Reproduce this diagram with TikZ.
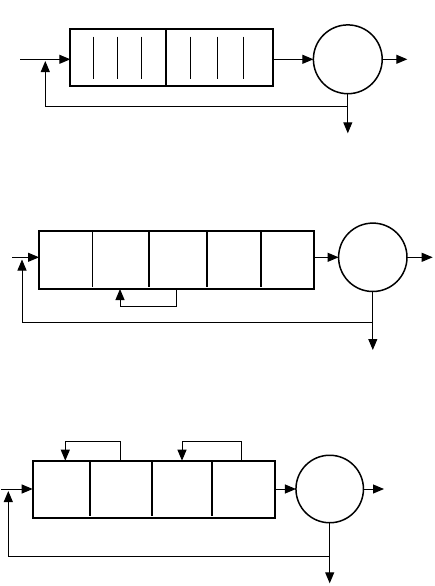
\documentclass[tikz,border=0pt]{standalone}
\usetikzlibrary{arrows.meta}
\tikzset{
  qbox/.style={draw, line width=2pt, rectangle, inner sep=0pt, outer sep=0pt},
  srv/.style={draw, line width=1.5pt, circle, inner sep=0pt, outer sep=0pt},
  thinln/.style={line width=1pt},
  thickdiv/.style={line width=2pt},
  arr/.style={line width=1pt, -{Triangle[length=11pt,width=9pt]}},
  ln/.style={line width=1pt}
}
\begin{document}
\begin{tikzpicture}[x=1pt,y=-1pt]
\useasboundingbox (0,0) rectangle (434,586);
% ---------- Diagram 1 ----------
\node[qbox, minimum width=203pt, minimum height=56.7pt] (b1) at (171.8,57.7) {};
\node[srv, minimum size=68.8pt] (c1) at (347.8,59.3) {};
\coordinate (in1) at (20,59.3);
\coordinate (out1) at (407.3,59.3);
\coordinate (dn1) at (347.8,133.3);
\coordinate (fb1) at (45.3,106.3);
\coordinate (tip1) at (45.3,61);
\draw[arr] (in1) -- (b1.west |- in1);
\draw[arr] (b1.east |- c1) -- (c1.west);
\draw[arr] (c1.east) -- (out1);
\draw[arr] (c1.south) -- (dn1);
\draw[arr] (c1.south |- fb1) -- (fb1) -- (tip1);
\draw[thickdiv] (165.7,29.3) -- (165.7,86);
\foreach \x in {93.3,117.3,141.7,190.3,217.3,243.7}
  \draw[thinln] (\x,36.7) -- (\x,79);
% ---------- Diagram 2 ----------
\node[qbox, minimum width=275.3pt, minimum height=58pt] (b2) at (176.7,260) {};
\node[srv, minimum size=68.4pt] (c2) at (372.8,257.3) {};
\coordinate (in2) at (12,257.3);
\coordinate (out2) at (432.7,257.3);
\coordinate (dn2) at (372.8,350);
\coordinate (fb2) at (22,322.7);
\coordinate (tip2) at (22,259.5);
\coordinate (lp2a) at (176,306.3);
\coordinate (lp2b) at (120,306.3);
\coordinate (lp2c) at (120,289);
\draw[arr] (in2) -- (b2.west |- in2);
\draw[arr] (b2.east |- c2) -- (c2.west);
\draw[arr] (c2.east) -- (out2);
\draw[arr] (c2.south) -- (dn2);
\draw[arr] (c2.south |- fb2) -- (fb2) -- (tip2);
\draw[arr] (b2.south -| lp2a) -- (lp2a) -- (lp2b) -- (lp2c);
\draw[thinln] (92.3,231) -- (92.3,286.7);
\foreach \x in {148.7,207,260.7}
  \draw[thickdiv] (\x,231) -- (\x,286.7);
% ---------- Diagram 3 ----------
\node[qbox, minimum width=242.6pt, minimum height=57pt] (b3) at (154,489.2) {};
\node[srv, minimum size=67.5pt] (c3) at (329.7,489) {};
\coordinate (in3) at (1,489);
\coordinate (out3) at (384,489);
\coordinate (dn3) at (329.7,583.3);
\coordinate (fb3) at (8.3,556);
\coordinate (tip3) at (8.3,491);
\coordinate (la1) at (120.3,441.3);
\coordinate (la2) at (65.3,441.3);
\coordinate (lb1) at (241.3,441.3);
\coordinate (lb2) at (182,441.3);
\draw[arr] (in3) -- (b3.west |- in3);
\draw[arr] (b3.east |- c3) -- (c3.west);
\draw[arr] (c3.east) -- (out3);
\draw[arr] (c3.south) -- (dn3);
\draw[arr] (c3.south |- fb3) -- (fb3) -- (tip3);
\draw[arr] (b3.north -| la1) -- (la1) -- (la2) -- (b3.north -| la2);
\draw[arr] (b3.north -| lb1) -- (lb1) -- (lb2) -- (b3.north -| lb2);
\foreach \x in {90,152,212}
  \draw[thickdiv] (\x,460.7) -- (\x,515.7);
\end{tikzpicture}
\end{document}
